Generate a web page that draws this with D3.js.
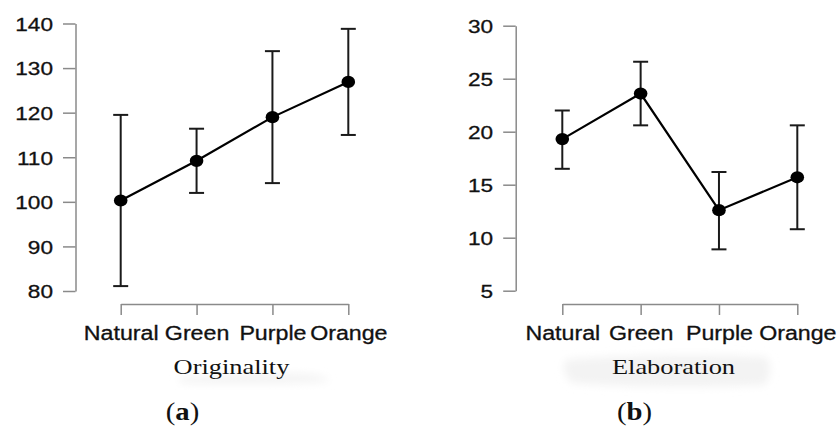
<!DOCTYPE html>
<html>
<head>
<meta charset="utf-8">
<script src="https://cdn.jsdelivr.net/npm/d3@7"></script>
<style>
  html, body { margin: 0; padding: 0; background: #fff; }
  svg { display: block; }
</style>
</head>
<body>
<svg id="chart" width="838" height="427"></svg>
<script>
// Category labels shared by both panels
const categories = ["Natural", "Green", "Purple", "Orange"];

// Panel (a): Originality — means with lower/upper error limits
const originalityMean = [100.3, 109.2, 119.0, 126.9];
const originalityLow  = [81.1, 102.0, 104.2, 115.0];
const originalityHigh = [119.5, 116.4, 133.8, 138.8];
const originalityTicks = [80, 90, 100, 110, 120, 130, 140];

// Panel (b): Elaboration — means with lower/upper error limits
const elaborationMean = [19.3, 23.6, 12.6, 15.7];
const elaborationLow  = [16.5, 20.6, 8.9, 10.8];
const elaborationHigh = [22.0, 26.6, 16.2, 20.6];
const elaborationTicks = [5, 10, 15, 20, 25, 30];

const svg = d3.select("#chart");
const SX = 1.19; // horizontal stretch of lettering

// soft grey smears behind the axis titles
const defs = svg.append("defs");
defs.append("filter").attr("id", "smear")
  .attr("x", "-20%").attr("y", "-60%").attr("width", "140%").attr("height", "220%")
  .append("feGaussianBlur").attr("stdDeviation", 4);

function stretchText(sel, sx) {
  sel.each(function () {
    const t = d3.select(this);
    const x = +t.attr("x") || 0;
    const y = +t.attr("y") || 0;
    t.attr("x", 0).attr("y", 0)
     .attr("transform", `translate(${x},${y}) scale(${sx},1)`);
  });
}

function panel(cfg) {
  const g = svg.append("g");

  const x = d3.scalePoint().domain(categories).range(cfg.xRange);
  const y = d3.scaleLinear().domain(cfg.yDomain).range(cfg.yRange);

  // smear behind title
  g.append("path")
    .attr("d", cfg.smear)
    .attr("fill", "#f3f3f3")
    .attr("filter", "url(#smear)");

  // y axis
  const yAxis = g.append("g")
    .attr("transform", `translate(${cfg.yAxisX},0)`)
    .call(d3.axisLeft(y).tickValues(cfg.ticks).tickSize(12.5).tickSizeOuter(0).tickPadding(10).tickFormat(d3.format("d")));
  yAxis.select(".domain").attr("stroke", "#8a8a8a").attr("stroke-width", 1.5);
  yAxis.selectAll(".tick line").attr("stroke", "#8a8a8a").attr("stroke-width", 1.5);
  yAxis.selectAll(".tick text")
    .attr("fill", "#111").attr("stroke", "#111").attr("stroke-width", 0.3)
    .attr("font-family", "'Liberation Sans', Arial, sans-serif")
    .attr("font-size", 19).attr("dy", null).attr("dominant-baseline", "central");
  stretchText(yAxis.selectAll(".tick text"), SX);

  // x axis
  const xAxis = g.append("g")
    .attr("transform", `translate(0,${cfg.xAxisY})`)
    .call(d3.axisBottom(x).tickSize(11).tickSizeOuter(0).tickPadding(12));
  xAxis.select(".domain").attr("stroke", "#8a8a8a").attr("stroke-width", 1.5);
  xAxis.selectAll(".tick line").attr("stroke", "#8a8a8a").attr("stroke-width", 1.5);
  xAxis.selectAll(".tick text")
    .attr("fill", "#111").attr("stroke", "#111").attr("stroke-width", 0.3)
    .attr("font-family", "'Liberation Sans', Arial, sans-serif")
    .attr("font-size", 19.5).attr("dy", null).attr("y", 36);
  stretchText(xAxis.selectAll(".tick text"), SX);

  const rows = categories.map((c, i) => ({
    c, m: cfg.mean[i], lo: cfg.low[i], hi: cfg.high[i]
  }));

  // error bars
  const eb = g.append("g").attr("stroke", "#1a1a1a").attr("stroke-width", 2).attr("fill", "none");
  eb.selectAll("line.v").data(rows).join("line").attr("class", "v")
    .attr("x1", d => x(d.c)).attr("x2", d => x(d.c))
    .attr("y1", d => y(d.lo)).attr("y2", d => y(d.hi));
  eb.selectAll("line.top").data(rows).join("line").attr("class", "top")
    .attr("x1", d => x(d.c) - 7.5).attr("x2", d => x(d.c) + 7.5)
    .attr("y1", d => y(d.hi)).attr("y2", d => y(d.hi));
  eb.selectAll("line.bot").data(rows).join("line").attr("class", "bot")
    .attr("x1", d => x(d.c) - 7.5).attr("x2", d => x(d.c) + 7.5)
    .attr("y1", d => y(d.lo)).attr("y2", d => y(d.lo));

  // connecting line
  g.append("path")
    .datum(rows)
    .attr("fill", "none").attr("stroke", "#000").attr("stroke-width", 2.2)
    .attr("d", d3.line().x(d => x(d.c)).y(d => y(d.m)));

  // mean markers
  g.selectAll("ellipse.pt").data(rows).join("ellipse").attr("class", "pt")
    .attr("cx", d => x(d.c)).attr("cy", d => y(d.m))
    .attr("rx", 6.8).attr("ry", 6.1).attr("fill", "#000");

  // axis title
  g.append("text")
    .attr("x", cfg.titleX).attr("y", 374)
    .attr("text-anchor", "middle")
    .attr("font-family", "'Liberation Serif', 'Times New Roman', serif")
    .attr("font-size", 22).attr("fill", "#111")
    .text(cfg.title)
    .call(stretchText, 1.2);

  // panel letter
  const lab = g.append("text")
    .attr("x", cfg.letterX).attr("y", 420)
    .attr("text-anchor", "middle")
    .attr("font-family", "'Liberation Serif', 'Times New Roman', serif")
    .attr("font-size", 25).attr("fill", "#111");
  lab.append("tspan").text("(");
  lab.append("tspan").attr("font-weight", "bold").text(cfg.letter);
  lab.append("tspan").text(")");
  lab.call(stretchText, 1.15);
}

panel({
  xRange: [120.7, 348.3],
  yDomain: [80, 140], yRange: [291, 23.5],
  yAxisX: 75.5, xAxisY: 304,
  ticks: originalityTicks,
  mean: originalityMean, low: originalityLow, high: originalityHigh,
  title: "Originality", titleX: 231.5,
  letter: "a", letterX: 182.5,
  smear: "M178,377 C215,374 262,373 305,374 C318,375 328,378 330,381 C300,384 240,384 182,383 Z"
});

panel({
  xRange: [562.3, 797.3],
  yDomain: [5, 30], yRange: [290.7, 25.7],
  yAxisX: 515.7, xAxisY: 304,
  ticks: elaborationTicks,
  mean: elaborationMean, low: elaborationLow, high: elaborationHigh,
  title: "Elaboration", titleX: 673.5,
  letter: "b", letterX: 634.5,
  smear: "M566,360 C620,355 700,354 766,357 C772,363 771,378 764,385 C700,388 620,387 572,383 C564,376 562,366 566,360 Z"
});
</script>
</body>
</html>
